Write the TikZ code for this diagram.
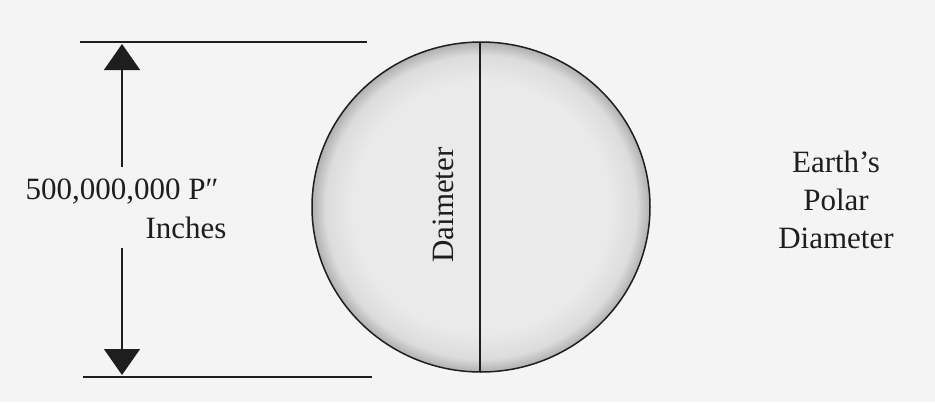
\documentclass[tikz,border=0pt]{standalone}
\usepackage{fontspec}
\setmainfont{Liberation Serif}
\usetikzlibrary{arrows.meta}
\definecolor{paper}{HTML}{F4F4F4}
\definecolor{ink}{HTML}{1E1E1E}
\definecolor{globein}{HTML}{EAEAEA}
\definecolor{globemid}{HTML}{DCDCDC}
\definecolor{globeout}{HTML}{B0B0B0}
\pgfdeclareradialshading{globeshade}{\pgfpoint{0bp}{0bp}}{color(0bp)=(globein); color(19bp)=(globein); color(23bp)=(globemid); color(25bp)=(globeout); color(50bp)=(globeout)}
\tikzset{
  label text/.style={font=\fontsize{31}{38}\selectfont, text=ink, inner sep=0pt},
  rule line/.style={draw=ink, line width=1.6pt},
  dim arrow/.style={draw=ink, line width=1.4pt, -{Triangle[width=36pt,length=26pt]}},
}
\begin{document}
\begin{tikzpicture}[x=1pt,y=-1pt]
\useasboundingbox (0,0) rectangle (935,402);
\fill[paper] (0,0) rectangle (935,402);
% reference lines
\coordinate (tl) at (80,42);
\coordinate (tr) at (367,42);
\coordinate (bl) at (83,377);
\coordinate (br) at (372,377);
\draw[rule line] (tl) -- (tr);
\draw[rule line] (bl) -- (br);
% globe
\path[shading=globeshade] (481,207) ellipse [x radius=169, y radius=165];
\draw[draw=ink, line width=1.5pt] (481,207) ellipse [x radius=169, y radius=165];
\coordinate (ptop) at (480,42);
\coordinate (pbot) at (480,372);
\draw[draw=ink, line width=1.3pt] (ptop) -- (pbot);
\node[label text, anchor=base, rotate=90] (dia) at (453,205) {Daimeter};
% dimension text
\node[label text, anchor=base] (num) at (122,199) {500,000,000 P″};
\node[label text, anchor=base] (inch) at (186,238) {Inches};
\coordinate (s1) at (122,167);
\coordinate (t1) at (122,44);
\coordinate (s2) at (122,248);
\coordinate (t2) at (122,375);
\draw[dim arrow] (s1) -- (t1);
\draw[dim arrow] (s2) -- (t2);
% right label
\node[label text, align=center, anchor=base] (e1) at (836,172) {Earth’s};
\node[label text, align=center, anchor=base] (e2) at (836,210) {Polar};
\node[label text, align=center, anchor=base] (e3) at (836,248) {Diameter};
\end{tikzpicture}
\end{document}
